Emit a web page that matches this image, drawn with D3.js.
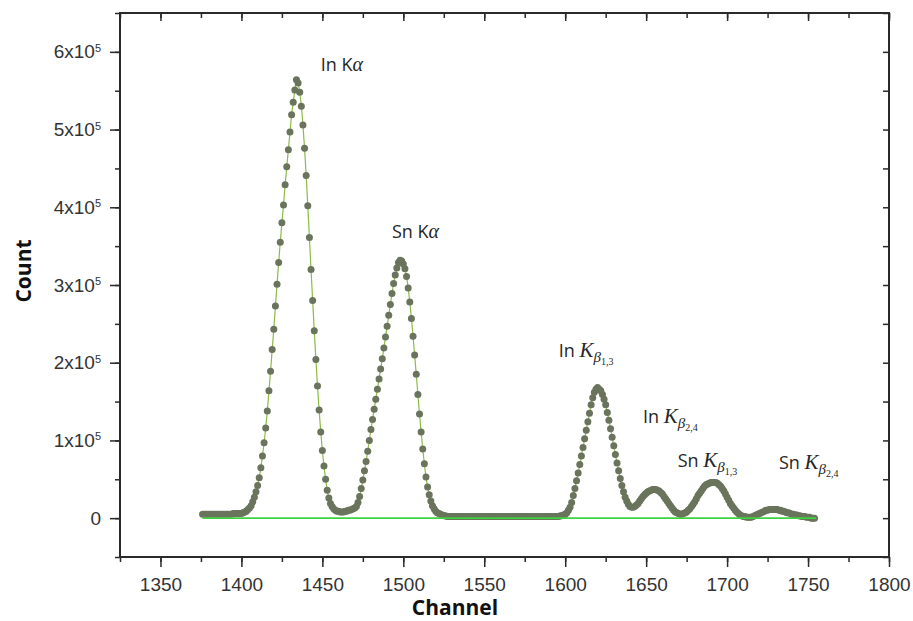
<!DOCTYPE html>
<html>
<head>
<meta charset="utf-8">
<script src="https://cdn.jsdelivr.net/npm/d3@7"></script>
<style>
  body { margin: 0; background: #fff; }
</style>
</head>
<body>
<div id="chart"></div>
<script>
// spectrum: one point per channel, counts in thousands
const firstChannel = 1376;
const countsK = [
  5, 5, 5, 5, 5, 5, 5, 5, 5, 5,
  5, 5, 5, 5, 5, 5, 5, 5, 5, 6,
  6, 6, 6, 6, 6, 7, 8, 9, 11, 13,
  16, 21, 27, 34, 42, 52, 65, 80, 97, 116,
  138, 164, 189, 217, 243, 273, 301, 329, 355, 380,
  403, 429, 452, 474, 497, 519, 535, 551, 564, 560,
  548, 530, 506, 476, 441, 402, 361, 320, 280, 241,
  204, 170, 139, 111, 87, 67, 50, 36, 26, 19,
  15, 12, 10, 9, 9, 8, 8, 8, 9, 9,
  10, 10, 11, 12, 13, 15, 20, 28, 38, 49,
  61, 73, 86, 100, 114, 127, 140, 153, 166, 179,
  192, 205, 219, 233, 247, 261, 275, 289, 302, 313,
  322, 329, 332, 331, 327, 321, 311, 296, 278, 257,
  234, 210, 185, 159, 134, 111, 89, 70, 53, 40,
  30, 22, 16, 12, 9, 7, 6, 5, 4, 3,
  3, 2, 2, 2, 2, 2, 2, 2, 2, 2,
  2, 2, 2, 2, 2, 2, 2, 2, 2, 2,
  2, 2, 2, 2, 2, 2, 2, 2, 2, 2,
  2, 2, 2, 2, 2, 2, 2, 2, 2, 2,
  2, 2, 2, 2, 2, 2, 2, 2, 2, 2,
  2, 2, 2, 2, 2, 2, 2, 2, 2, 2,
  2, 2, 2, 2, 2, 2, 2, 2, 2, 2,
  2, 3, 3, 4, 5, 7, 10, 14, 20, 29,
  38, 48, 58, 69, 80, 91, 102, 113, 124, 135,
  146, 155, 162, 166, 168, 166, 164, 159, 153, 146,
  136, 126, 115, 104, 93, 82, 71, 61, 51, 42,
  34, 27, 22, 18, 15, 14, 14, 15, 17, 19,
  22, 25, 28, 30, 32, 34, 35, 36, 37, 37,
  37, 36, 35, 33, 31, 28, 25, 22, 19, 16,
  13, 10, 8, 7, 6, 5, 5, 6, 7, 8,
  10, 12, 15, 18, 21, 25, 29, 32, 35, 38,
  41, 43, 44, 45, 46, 46, 46, 46, 45, 43,
  41, 38, 35, 31, 27, 23, 19, 16, 13, 10,
  8, 6, 4, 3, 2, 2, 1, 1, 1, 1,
  2, 3, 4, 5, 6, 7, 8, 9, 10, 10,
  11, 11, 11, 11, 11, 11, 10, 10, 9, 9,
  8, 7, 7, 6, 5, 5, 4, 4, 3, 3,
  2, 2, 2, 1, 1, 1, 0, 0, 0
];

// background line under the peaks
const baselineChannels = [1376, 1755];
const baselineCounts = [0, 0];

const xDomain = [1325, 1800];
const yDomain = [-50000, 650000];
const xTicks = [1350, 1400, 1450, 1500, 1550, 1600, 1650, 1700, 1750, 1800];
const yTicks = [0, 100000, 200000, 300000, 400000, 500000, 600000];

// peak names, placed at (channel, count)
const peakElements = ['In', 'Sn', 'In', 'In', 'Sn', 'Sn'];
const peakLines = ['α', 'α', 'β', 'β', 'β', 'β'];
const peakIndex = ['', '', '1,3', '2,4', '1,3', '2,4'];
const peakLabelChannel = [1449, 1493, 1596, 1648, 1669.5, 1732];
const peakLabelCount = [576000, 361000, 207000, 123000, 66000, 63000];

const W = 913, H = 621;
const margin = { top: 13, right: 24, bottom: 64, left: 120 };
const width = 889 - margin.left;
const height = 557 - margin.top;

const points = countsK.map((c, i) => ({ ch: firstChannel + i, count: c * 1000 }));

const svg = d3.select('#chart').append('svg')
  .attr('width', W)
  .attr('height', H);

const g = svg.append('g')
  .attr('transform', 'translate(' + margin.left + ',' + margin.top + ')');

// scales
const x = d3.scaleLinear().domain(xDomain).range([0, width]);
const y = d3.scaleLinear().domain(yDomain).range([height, 0]);

const xMinor = d3.range(xDomain[0], xDomain[1] + 1, 25);
const yMinor = d3.range(yDomain[0], yDomain[1] + 1, 50000);

const axisColor = '#2a2a2a';
const labelFont = '"Liberation Sans", Arial, sans-serif';

// bottom axis
g.append('g')
  .attr('transform', 'translate(0,' + height + ')')
  .call(d3.axisBottom(x).tickValues(xTicks).tickSize(10).tickSizeOuter(0).tickPadding(10.5).tickFormat(d3.format('d')));
g.append('g')
  .attr('transform', 'translate(0,' + height + ')')
  .call(d3.axisBottom(x).tickValues(xMinor).tickSize(5).tickSizeOuter(0).tickFormat(''));

// top axis, ticks inside
g.append('g')
  .call(d3.axisBottom(x).tickValues(xTicks).tickSize(8).tickSizeOuter(0).tickFormat(''));
g.append('g')
  .call(d3.axisBottom(x).tickValues(xMinor).tickSize(5).tickSizeOuter(0).tickFormat(''));

// left axis
const gY = g.append('g')
  .call(d3.axisLeft(y).tickValues(yTicks).tickSize(10).tickSizeOuter(0).tickPadding(9));
g.append('g')
  .call(d3.axisLeft(y).tickValues(yMinor).tickSize(5).tickSizeOuter(0).tickFormat(''));

// right axis, ticks inside
g.append('g')
  .attr('transform', 'translate(' + width + ',0)')
  .call(d3.axisLeft(y).tickValues(yMinor).tickSize(6).tickSizeOuter(0).tickFormat(''));

// "Nx10^5" labels
gY.selectAll('.tick text').each(function (d) {
  const t = d3.select(this).text(null);
  if (d === 0) {
    t.text('0');
    return;
  }
  t.append('tspan').text((d / 100000) + 'x10');
  t.append('tspan').attr('dy', '-0.6em').attr('font-size', 11).text('5');
});

g.selectAll('.tick line').attr('stroke', axisColor).attr('stroke-width', 1.5);
g.selectAll('.domain').remove();
g.selectAll('.tick text')
  .attr('font-family', labelFont)
  .attr('font-size', 19)
  .attr('fill', '#333');

// frame
g.append('rect')
  .attr('width', width)
  .attr('height', height)
  .attr('fill', 'none')
  .attr('stroke', axisColor)
  .attr('stroke-width', 2);

// fit line through the points
const line = d3.line()
  .x(d => x(d.ch))
  .y(d => y(d.count))
  .curve(d3.curveMonotoneX);

g.append('path')
  .datum(points)
  .attr('d', line)
  .attr('fill', 'none')
  .attr('stroke', '#8dbb45')
  .attr('stroke-width', 1.2);

// measured points
g.selectAll('circle.pt')
  .data(points)
  .enter()
  .append('circle')
  .attr('class', 'pt')
  .attr('cx', d => x(d.ch))
  .attr('cy', d => y(d.count))
  .attr('r', 3.5)
  .attr('fill', '#6a745c');

// baseline
g.append('path')
  .datum(baselineChannels.map((c, i) => ({ ch: c, count: baselineCounts[i] })))
  .attr('d', d3.line().x(d => x(d.ch)).y(d => y(d.count)))
  .attr('stroke', '#3fd23f')
  .attr('stroke-width', 1.6)
  .attr('fill', 'none');

// peak labels
peakElements.forEach((el, i) => {
  const t = g.append('text')
    .attr('x', x(peakLabelChannel[i]))
    .attr('y', y(peakLabelCount[i]))
    .attr('font-family', '"Open Sans", sans-serif')
    .attr('font-size', 18)
    .attr('fill', '#262626');
  t.append('tspan').text(el + ' ');
  if (!peakIndex[i]) {
    t.append('tspan').text('K');
    t.append('tspan')
      .attr('font-family', '"Liberation Serif", serif')
      .attr('font-style', 'italic')
      .attr('font-size', 20)
      .text(peakLines[i]);
  } else {
    t.append('tspan')
      .attr('font-family', '"Liberation Serif", serif')
      .attr('font-style', 'italic')
      .attr('font-size', 21)
      .text('K');
    t.append('tspan')
      .attr('font-family', '"Liberation Serif", serif')
      .attr('font-style', 'italic')
      .attr('font-size', 15)
      .attr('dy', 5)
      .text(peakLines[i]);
    t.append('tspan')
      .attr('font-family', '"Liberation Serif", serif')
      .attr('font-size', 10)
      .attr('dy', 3)
      .text(peakIndex[i]);
  }
});

// axis titles
svg.append('text')
  .attr('x', 455)
  .attr('y', 615)
  .attr('text-anchor', 'middle')
  .attr('font-family', '"Open Sans", sans-serif')
  .attr('font-weight', 'bold')
  .attr('font-size', 21)
  .attr('fill', '#111')
  .text('Channel');

svg.append('text')
  .attr('transform', 'translate(31,271) rotate(-90)')
  .attr('text-anchor', 'middle')
  .attr('font-family', '"Open Sans", sans-serif')
  .attr('font-weight', 'bold')
  .attr('font-size', 21)
  .attr('fill', '#111')
  .text('Count');
</script>
</body>
</html>
